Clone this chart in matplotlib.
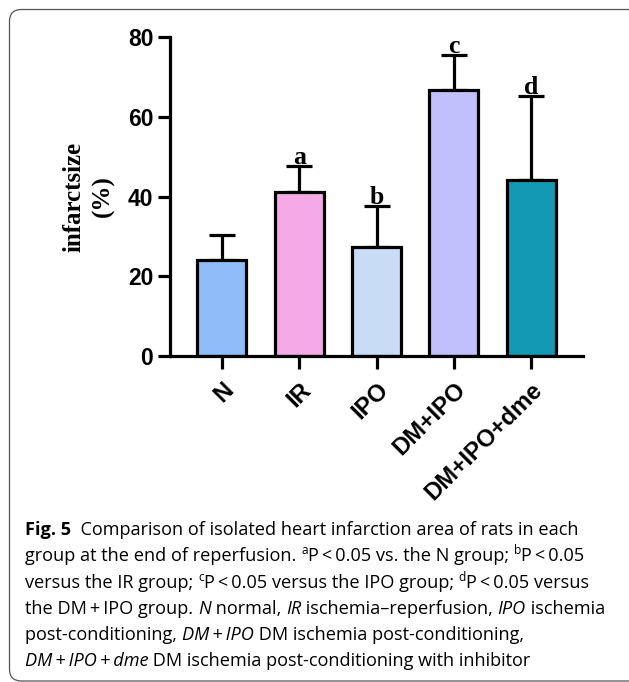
import numpy as np
import matplotlib

matplotlib.use("Agg")
import matplotlib.pyplot as plt  # noqa: E402
from matplotlib.patches import FancyBboxPatch  # noqa: E402

# data
groups = ["N", "IR", "IPO", "DM+IPO", "DM+IPO+dme"]
infarct = [24.1, 41.2, 27.3, 66.6, 44.2]
infarct_sd = [6.2, 6.5, 10.4, 9.0, 21.1]
sig_letters = ["", "a", "b", "c", "d"]
bar_colors = ["#8fbdf8", "#f5a9e6", "#c8dcf6", "#c1bffc", "#1399b3"]
y_ticks = [0, 20, 40, 60, 80]

W, H = 629, 682
fig = plt.figure(figsize=(W / 100, H / 100), dpi=100)
fig.patch.set_facecolor("white")

# rounded frame round the whole figure
frame = FancyBboxPatch((9.5, 1.0), 660, 671.5, boxstyle="round,pad=0,rounding_size=12",
                       transform=None, facecolor="none", edgecolor="#555555", lw=0.9)
fig.patches.append(frame)

ax = fig.add_axes([170 / W, 1 - 356 / H, (583 - 170) / W, (356 - 37) / H])
x = np.arange(len(groups))
lw = 2.3

ax.bar(x, infarct, width=0.63, color=bar_colors, edgecolor="black", linewidth=lw, zorder=2)
ax.errorbar(x, infarct, yerr=[np.zeros(len(groups)), infarct_sd], fmt="none",
            ecolor="black", elinewidth=lw, capsize=9.5, capthick=lw, zorder=1)

for xi, top, sd, lab in zip(x, infarct, infarct_sd, sig_letters):
    if lab:
        ax.text(xi, top + sd + 0.4, lab, ha="center", va="baseline",
                family="Liberation Serif", fontweight="bold", fontsize=18.5)

ax.set_xlim(-0.67, 4.67)
ax.set_ylim(0, 80)
ax.set_yticks(y_ticks)
ax.set_xticks(x)
ax.set_xticklabels(groups, rotation=45, ha="right", va="top", rotation_mode="anchor")
for lab in ax.get_yticklabels():
    lab.set_family("Liberation Sans")
    lab.set_fontweight("bold")
    lab.set_fontsize(16.5)
for lab in ax.get_xticklabels():
    lab.set_family("Liberation Sans")
    lab.set_fontweight("bold")
    lab.set_fontsize(17.2)

for side in ["top", "right"]:
    ax.spines[side].set_visible(False)
for side in ["left", "bottom"]:
    ax.spines[side].set_linewidth(lw)
ax.tick_params(axis="both", direction="out", length=9, width=lw, pad=3)
ax.tick_params(axis="x", pad=7)

ax.set_ylabel("infarctsize\n(%)", family="Liberation Serif", fontweight="bold",
              fontsize=18, linespacing=1.35, labelpad=9)

# caption, drawn piece by piece so bold/italic/superscript can be mixed
cap_font = ["Open Sans", "DejaVu Sans"]
cap_size = 13.1
renderer = fig.canvas.get_renderer()


def text_width(s, **kw):
    t1 = fig.text(0, 0, "|" + s + "|", **kw)
    t2 = fig.text(0, 0, "||", **kw)
    w = t1.get_window_extent(renderer).width - t2.get_window_extent(renderer).width
    t1.remove()
    t2.remove()
    return w


def draw_line(x0, y0, runs):
    xp = x0
    for s, style in runs:
        kw = dict(family=cap_font, fontsize=cap_size, transform=None, va="baseline")
        dy = 0
        if style == "b":
            kw["fontweight"] = "bold"
        elif style == "i":
            kw["style"] = "italic"
        elif style == "sup":
            kw["fontsize"] = cap_size * 0.66
            dy = cap_size * 1.389 * 0.38
        w = text_width(s, **kw)
        fig.text(xp, y0 + dy, s, **kw)
        xp += w


ts = "\u2009"
lt = "P" + ts + "<" + ts + "0.05"
pl = ts + "+" + ts
caption = [
    [("Fig. 5", "b"), ("  Comparison of isolated heart infarction area of rats in each", "")],
    [("group at the end of reperfusion. ", ""), ("a", "sup"), (lt + " vs. the N group; ", ""),
     ("b", "sup"), (lt, "")],
    [("versus the IR group; ", ""), ("c", "sup"), (lt + " versus the IPO group; ", ""),
     ("d", "sup"), (lt + " versus", "")],
    [("the DM" + pl + "IPO group. ", ""), ("N", "i"), (" normal, ", ""), ("IR", "i"),
     (" ischemia\u2013reperfusion, ", ""), ("IPO", "i"), (" ischemia", "")],
    [("post-conditioning, ", ""), ("DM" + pl + "IPO", "i"), (" DM ischemia post-conditioning,", "")],
    [("DM" + pl + "IPO" + pl + "dme", "i"), (" DM ischemia post-conditioning with inhibitor", "")],
]
baseline0 = H - 535
for i, runs in enumerate(caption):
    draw_line(25, baseline0 - i * 26.3, runs)

fig.savefig("out.png", dpi=100)
